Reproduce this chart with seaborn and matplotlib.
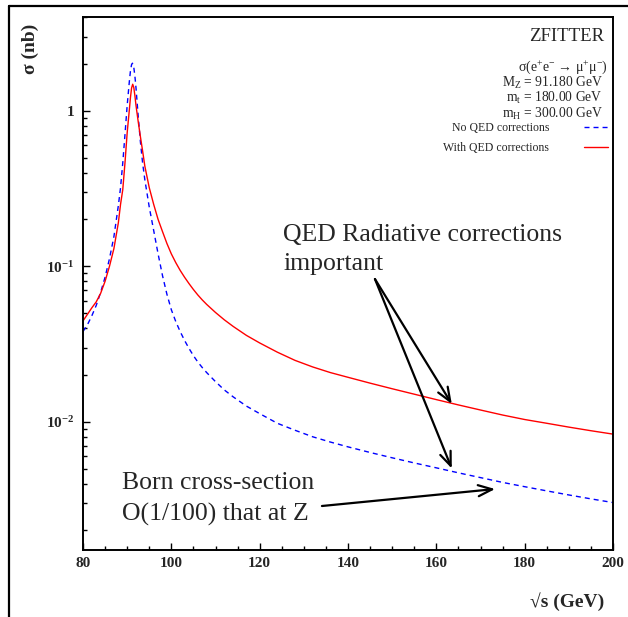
import numpy as np
import pandas as pd
import seaborn as sns
import matplotlib
matplotlib.use("Agg")
import matplotlib.pyplot as plt
from matplotlib.lines import Line2D
from matplotlib.ticker import (FixedLocator, FixedFormatter, LogLocator,
                               NullFormatter, MultipleLocator)

# ---------------- data ----------------
sqrt_s_born = [80, 81, 82, 83, 84, 85, 86, 87, 88, 88.5, 89, 89.5, 90, 90.5,
               90.75, 91, 91.2, 91.5, 91.75, 92, 92.5, 93, 93.5, 94, 95, 96,
               97, 98, 99, 100, 101, 102, 103, 104, 105, 106, 107, 108, 110,
               112, 114, 117, 120, 124, 128, 132, 136, 140, 145, 150, 155,
               160, 165, 170, 175, 180, 185, 190, 195, 200]
sigma_born = [0.038, 0.042, 0.048, 0.056, 0.068, 0.085, 0.112, 0.155, 0.245,
              0.32, 0.46, 0.70, 1.08, 1.55, 1.81, 1.98, 2.02, 1.90, 1.67,
              1.40, 0.92, 0.63, 0.46, 0.36, 0.24, 0.17, 0.12, 0.087, 0.066,
              0.0525, 0.0441, 0.0380, 0.0333, 0.0296, 0.0266, 0.0242,
              0.0223, 0.0207, 0.0181, 0.0160, 0.01445, 0.0126, 0.01127,
              0.00977, 0.00881, 0.0080, 0.0074, 0.00689, 0.00634, 0.00586,
              0.00543, 0.00505, 0.00469, 0.00437, 0.00407, 0.00382, 0.00359,
              0.00338, 0.00319, 0.00302]

sqrt_s_qed = [80, 81, 82, 83, 84, 85, 86, 87, 88, 88.5, 89, 89.5, 90, 90.5,
              90.75, 91, 91.25, 91.5, 91.75, 92, 92.5, 93, 93.5, 94, 95, 96,
              97, 98, 99, 100, 101, 102, 103, 104, 105, 106, 107, 108, 110,
              112, 114, 117, 120, 124, 128, 132, 136, 140, 145, 150, 155,
              160, 165, 170, 175, 180, 185, 190, 195, 200]
sigma_qed = [0.0445, 0.049, 0.054, 0.059, 0.067, 0.080, 0.100, 0.130, 0.19,
             0.25, 0.31, 0.46, 0.72, 1.02, 1.22, 1.40, 1.48, 1.41, 1.25,
             1.08, 0.85, 0.68, 0.55, 0.44, 0.32, 0.25, 0.20, 0.167, 0.140,
             0.120, 0.1055, 0.094, 0.0849, 0.0773, 0.0708, 0.0653, 0.0607,
             0.0568, 0.0504, 0.0452, 0.0410, 0.0359, 0.0321, 0.0280,
             0.0248, 0.0225, 0.0207, 0.0193, 0.0177, 0.01629, 0.01503,
             0.01387, 0.01282, 0.01189, 0.01104, 0.01033, 0.00977, 0.00923,
             0.00875, 0.00832]

x_ticks = [80, 100, 120, 140, 160, 180, 200]
x_tick_labels = ["80", "100", "120", "140", "160", "180", "200"]
y_ticks = [0.01, 0.1, 1]
y_tick_labels = [r"$\mathbf{10^{-2}}$", r"$\mathbf{10^{-1}}$", r"$\mathbf{1}$"]

series_labels = ["No QED corrections", "With QED corrections"]
info_lines = ["M$_{\\mathrm{Z}}$ = 91.180 GeV",
              "m$_{\\mathrm{t}}$ = 180.00 GeV",
              "m$_{\\mathrm{H}}$ = 300.00 GeV"]

# ---------------- style ----------------
sns.set_style("ticks")
plt.rcParams["font.family"] = ["Liberation Serif", "DejaVu Serif"]
plt.rcParams["mathtext.fontset"] = "custom"
plt.rcParams["mathtext.rm"] = "Liberation Serif"
plt.rcParams["mathtext.it"] = "Liberation Serif:italic"
plt.rcParams["mathtext.bf"] = "Liberation Serif:bold"

W, H = 628, 617
fig = plt.figure(figsize=(W / 100, H / 100), dpi=100)
fig.patch.set_facecolor("white")
ax = fig.add_axes([83 / W, 1 - 550 / H, 530 / W, 533 / H])

dash = (0, (3.6, 2.9))
df_born = pd.DataFrame({"sqrt_s": sqrt_s_born, "sigma": sigma_born})
df_qed = pd.DataFrame({"sqrt_s": sqrt_s_qed, "sigma": sigma_qed})
sns.lineplot(data=df_born, x="sqrt_s", y="sigma", color="#0000ff", lw=1.0,
             linestyle=dash, ax=ax, legend=False)
sns.lineplot(data=df_qed, x="sqrt_s", y="sigma", color="#ff0000", lw=1.0,
             ax=ax, legend=False)

ax.set_yscale("log")
ax.set_xlim(80, 200)
ax.set_ylim(1.496e-3, 4.005)

ax.xaxis.set_major_locator(FixedLocator(x_ticks))
ax.xaxis.set_major_formatter(FixedFormatter(x_tick_labels))
ax.xaxis.set_minor_locator(MultipleLocator(5))
ax.yaxis.set_major_locator(FixedLocator(y_ticks))
ax.yaxis.set_major_formatter(FixedFormatter(y_tick_labels))
ax.yaxis.set_minor_locator(LogLocator(base=10, subs=np.arange(2, 10), numticks=30))
ax.yaxis.set_minor_formatter(NullFormatter())

ax.tick_params(which="both", direction="in", left=True, bottom=True,
               top=False, right=False, color="black", width=1.0)
ax.tick_params(which="major", length=5.0)
ax.tick_params(which="minor", length=2.8)
ax.tick_params(axis="x", which="major", pad=5, labelsize=11)
ax.tick_params(axis="y", which="major", pad=6, labelsize=11)
for lab in ax.get_xticklabels():
    lab.set_fontweight("bold")
for sp in ax.spines.values():
    sp.set_visible(True)
    sp.set_linewidth(1.4)
    sp.set_color("black")

ax.set_xlabel("√s (GeV)", fontsize=14, fontweight="bold")
ax.xaxis.set_label_coords(0.913, -0.080)
ax.set_ylabel("σ (nb)", fontsize=14, fontweight="bold")
ax.yaxis.set_label_coords(-0.083, 0.94)

# ---------------- legend / info block ----------------
ax.text(0.983, 0.9625, "ZFITTER", transform=ax.transAxes, ha="right",
        va="center", fontsize=13.5)
ax.text(0.9906, 0.905, "σ(e$^{+}$e$^{-}$ → μ$^{+}$μ$^{-}$)",
        transform=ax.transAxes, ha="right", va="center", fontsize=10)
for txt, yy in zip(info_lines, [0.876, 0.848, 0.818]):
    ax.text(0.981, yy, txt, transform=ax.transAxes, ha="right", va="center",
            fontsize=9.8)

handles = [Line2D([], [], color="#0000ff", lw=1.0, linestyle=dash),
           Line2D([], [], color="#ff0000", lw=1.0)]
ax.legend(handles, series_labels, loc="upper right",
          bbox_to_anchor=(0.9906, 0.803), markerfirst=False, frameon=False,
          fontsize=8.5, handlelength=2.0, handletextpad=3.0,
          labelspacing=0.65, borderaxespad=0, borderpad=0)

# ---------------- annotations ----------------
arrow = dict(arrowstyle="->,head_length=1.0,head_width=0.4", lw=1.6,
             color="black", shrinkA=0, shrinkB=0, mutation_scale=10)
ax.annotate("", xy=(163.5, 0.0130), xytext=(146.1, 0.0827), arrowprops=arrow)
ax.annotate("", xy=(163.5, 0.0050), xytext=(146.1, 0.0827), arrowprops=arrow)
ax.annotate("", xy=(173.3, 0.00369), xytext=(134.1, 0.00287), arrowprops=arrow)

ax.text(0.3774, 0.591, "QED Radiative corrections", transform=ax.transAxes,
        ha="left", va="center", fontsize=18.5)
ax.text(0.3774, 0.5366, "important", transform=ax.transAxes,
        ha="left", va="center", fontsize=18.5)
ax.text(0.0736, 0.1257, "Born cross-section", transform=ax.transAxes,
        ha="left", va="center", fontsize=18.5)
ax.text(0.0736, 0.0675, "O(1/100) that at Z", transform=ax.transAxes,
        ha="left", va="center", fontsize=18.5)

# ---------------- outer page frame (top and left edges) ----------------
fig.add_artist(Line2D([8.8 / W, 1.0], [1 - 5.7 / H, 1 - 5.7 / H],
                      transform=fig.transFigure, color="black", lw=1.6))
fig.add_artist(Line2D([8.8 / W, 8.8 / W], [0.0, 1 - 5.7 / H],
                      transform=fig.transFigure, color="black", lw=1.6))

fig.savefig("out.png", dpi=100)
